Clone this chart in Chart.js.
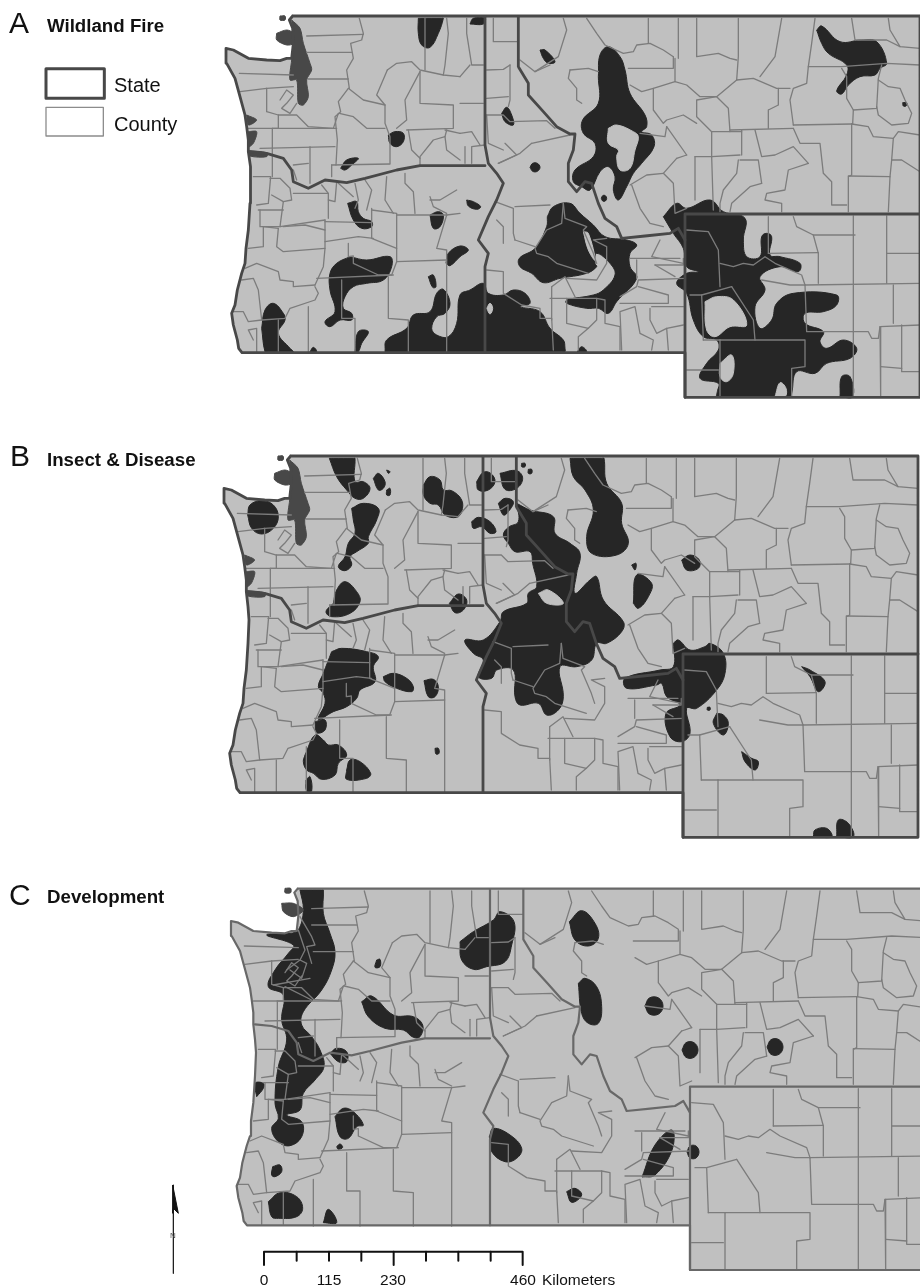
<!DOCTYPE html>
<html>
<head>
<meta charset="utf-8">
<title>Wildland Fire, Insect & Disease, Development</title>
<script src="https://cdn.jsdelivr.net/npm/chart.js"></script>
<style>
html,body{margin:0;background:#fff}
#wrap{position:relative;width:920px;height:1286px;overflow:hidden;font-family:"Liberation Sans",Arial,sans-serif;color:#111}
#wrap span{position:absolute;white-space:nowrap;line-height:1;transform:translateY(-50%)}
.letter{font-size:30px}
.title{font-size:18.7px;font-weight:bold}
.leg{font-size:20px}
.sc{font-size:15.5px;transform:translate(-50%,-50%) !important}
</style>
</head>
<body>
<div id="wrap">
<canvas id="map" width="920" height="1286"></canvas>
<span class="letter" style="left:9px;top:23px">A</span>
<span class="title" style="left:47px;top:26px">Wildland Fire</span>
<span class="leg" style="left:114px;top:85px">State</span>
<span class="leg" style="left:114px;top:124px">County</span>
<span class="letter" style="left:10px;top:456px">B</span>
<span class="title" style="left:47px;top:460px">Insect &amp; Disease</span>
<span class="letter" style="left:9px;top:895px">C</span>
<span class="title" style="left:47px;top:897px">Development</span>
<span class="sc" style="left:264px;top:1280px">0</span>
<span class="sc" style="left:329px;top:1280px">115</span>
<span class="sc" style="left:393px;top:1280px">230</span>
<span class="sc" style="left:523px;top:1280px">460</span>
<span style="left:542px;top:1280px;font-size:15.5px">Kilometers</span>
<span style="left:170px;top:1236px;font-size:8px;color:#555">N</span>
</div>
<script>
var landOutline = [878,48, 2760,48, 2760,1192, 2055,1192, 2055,1058, 726,1058, 716,1045, 712,1020, 700,975, 695,940, 705,915, 712,870, 725,820, 735,790, 738,745, 745,690, 750,610, 753,540, 750,500, 745,455, 745,420, 740,380, 735,345, 720,290, 705,235, 680,190, 678,145, 700,150, 745,175, 800,180, 840,182, 860,175, 875,175, 880,130, 878,85, 868,60, 878,48];

var waOrBorder = [750,455, 800,460, 850,475, 875,510, 880,545, 925,565, 975,540, 1040,548, 1095,535, 1190,510, 1260,497, 1455,497];
var waIdBorder = [75,50, 75,435, 85,490, 110,520, 130,550, 110,600, 85,650, 55,720, 85,760, 75,800, 75,1058];
var idMtBorder = [175,50, 175,200, 205,250, 205,285, 250,335, 290,380, 330,402, 345,402, 340,450, 325,490, 325,545, 350,575, 375,545, 395,550, 415,610, 435,655, 470,680, 485,715, 555,708, 630,700, 655,685, 675,720];
var mtWyBorder = [675,1192, 675,642, 1380,642];

var countyWest = [
 [920,108, 1090,103], [1078,55, 1090,100, 1085,120, 1052,130, 1060,175, 1040,210, 1048,265], [920,157, 1055,157], [925,237, 1045,237],
 [1045,265, 1015,305, 1022,335, 1005,350, 1012,420, 1008,495], [1045,265, 1090,300, 1155,315], [1018,340, 1060,350, 1100,385, 1155,385],
 [1275,55, 1275,210], [1162,210, 1190,190, 1235,185, 1260,210, 1330,225, 1380,230], [1162,210, 1130,285, 1155,315, 1155,370, 1170,410, 1170,490],
 [1260,215, 1215,300, 1220,360, 1190,385], [1260,215, 1260,310, 1360,315, 1360,385, 1220,390], [1340,55, 1345,100, 1335,195, 1330,225],
 [1225,390, 1235,450, 1260,475], [1340,390, 1335,410, 1300,420, 1260,470, 1260,495], [1335,410, 1340,450, 1380,480], [1335,390, 1380,400],
 [995,495, 1170,492], [995,495, 995,530], [718,220, 880,225], [720,275, 800,265], [800,265, 800,335, 835,345, 835,385, 745,385], [800,265, 880,260],
 [835,345, 890,345, 925,380, 1000,385, 1015,340], [817,385, 817,530], [817,385, 1010,385], [780,445, 1005,440], [930,440, 930,550], [880,495, 925,490], [880,510, 890,540],
 [840,300, 860,270, 880,285, 860,310, 845,325, 870,340, 890,310],
 [760,530, 812,530, 805,610, 770,615], [810,535, 840,535, 870,565, 875,600, 850,605, 815,585], [775,630, 850,630], [850,605, 840,680, 975,660],
 [880,580, 985,580, 985,655], [985,580, 965,555], [985,600, 1005,605, 1010,545], [780,630, 780,680, 840,680], [790,680, 790,740, 745,745], [790,680, 835,685],
 [835,685, 830,740, 850,755, 975,745], [850,680, 915,675, 975,690], [975,660, 975,745, 970,800, 945,855], [975,665, 1115,668], [975,725, 1075,710, 1120,715],
 [1045,730, 1045,770, 1060,768], [1115,625, 1115,715, 1190,745], [1115,630, 1190,640, 1190,785], [1190,645, 1340,645], [1010,545, 1060,590], [1065,550, 1075,600, 1065,625], [1095,540, 1115,570, 1100,630],
 [1160,530, 1155,600, 1180,640], [1215,520, 1215,550, 1240,575, 1245,640], [1290,590, 1300,620, 1340,640], [1290,600, 1320,600, 1370,570], [1340,645, 1310,745, 1340,750, 1340,1060], [1340,645, 1380,640],
 [1190,785, 1340,780], [1180,825, 950,835], [945,855, 880,860, 880,845, 840,840, 835,815, 770,790, 735,805], [945,860, 955,880, 945,900, 870,925, 855,955, 785,960, 775,870, 760,835, 725,840],
 [1060,770, 1060,790, 1135,825, 1175,825, 1190,785], [1165,830, 1165,955, 1225,960, 1225,1060], [1025,840, 1025,955, 1065,955, 1065,1060], [925,920, 925,1060], [835,960, 835,1055],
 [770,1055, 770,985, 745,990, 760,1020], [700,935, 730,935, 745,965, 785,960]
];
var countyEast = [
 [20,55, 20,100, 35,195, 70,195], [0,230, 30,195], [0,310, 70,310], [0,400, 35,395, 60,435], [15,490, 15,440], [35,490, 35,440, 75,435],
 [100,55, 100,125, 175,125], [80,210, 130,208, 150,195], [150,195, 150,300, 145,320], [80,295, 145,290], [80,345, 130,345, 150,365, 260,362, 285,385], [135,430, 170,465, 115,490], [80,345, 85,430, 130,450], [215,430, 330,405], [215,430, 180,460, 115,490],
 [105,605, 160,625, 160,700, 165,720], [165,620, 270,615], [110,660, 130,680, 130,730], [165,720, 225,740], [80,810, 130,815, 130,880, 185,915, 240,925, 240,955, 275,955, 280,1050],
 [270,895, 410,895, 435,900, 435,970, 480,980, 480,1050], [320,895, 320,970, 385,985, 355,1010, 355,1050], [410,895, 410,960, 385,985], [275,860, 275,960], [275,860, 315,830, 345,890],
 [480,890, 530,860, 535,840, 675,835], [530,780, 530,835], [510,775, 660,775], [585,795, 670,795, 670,775], [585,795, 645,830], [600,720, 575,770, 670,790], [485,1050, 480,935, 525,920, 540,1000, 580,1020, 575,1050],
 [570,925, 570,960, 590,1000, 620,985, 625,1050], [620,985, 670,975], [575,920, 670,920], [480,910, 625,910, 625,885, 535,860],
 [310,610, 305,670, 260,690, 225,745, 230,760, 265,770, 290,790, 385,820], [310,610, 315,655, 380,680, 370,690, 400,760, 410,790], [440,715, 400,720, 440,740, 440,790, 410,840, 320,835],
 [310,55, 320,90, 295,170, 225,215], [180,180, 225,215, 270,195], [330,210, 325,235, 350,265, 350,300, 365,310], [330,210, 385,205, 415,215],
 [380,55, 410,100, 435,135, 490,160, 520,155, 530,135, 570,130, 610,150, 640,170, 640,205, 505,205], [565,55, 565,130], [655,55, 655,175], [710,55, 710,170, 775,160, 810,175, 830,180], [835,55, 835,170, 830,240],
 [965,55, 945,170, 900,230], [1065,55, 1055,130, 1045,200, 1040,250, 1000,265, 990,300, 1000,375], [645,175, 645,245, 580,265, 545,275, 510,255], [645,245, 680,255, 720,290, 770,290], [830,240, 770,290, 805,325, 810,395],
 [830,240, 880,235, 950,265, 990,265], [955,265, 955,315, 925,330, 925,385], [770,290, 710,300, 710,350, 755,395, 845,395], [580,265, 580,330, 610,370, 620,360, 670,345, 710,370], [620,380, 615,410, 540,400], [620,380, 680,465],
 [755,395, 755,470, 840,465], [845,390, 845,465], [810,390, 1000,385], [885,390, 905,470, 945,465, 1000,440, 1045,490], [1000,385, 1020,430, 1080,430, 1090,520, 1115,545, 1115,615, 1160,615], [1000,375, 1175,372],
 [1175,372, 1175,525, 1165,530, 1165,635], [1175,372, 1225,380, 1240,410, 1300,415, 1315,395, 1380,405], [1165,528, 1290,530, 1285,635], [1295,480, 1325,480, 1380,515], [1300,415, 1295,480, 1290,530],
 [1175,55, 1185,120, 1280,120, 1320,140, 1380,145], [1285,55, 1290,90, 1320,140], [1045,200, 1145,200, 1280,190, 1380,195], [1145,205, 1160,230, 1160,295, 1180,330, 1250,325, 1255,235, 1265,195],
 [1255,240, 1285,260, 1320,265, 1335,300, 1355,340, 1345,370, 1295,375, 1255,345, 1250,320], [1180,330, 1178,372],
 [1045,490, 985,510, 975,570, 920,580, 915,600, 965,610, 965,635], [905,550, 870,560, 815,610, 810,635], [840,480, 895,480, 905,550], [835,480, 830,520, 790,570, 780,610, 780,635], [755,470, 760,630], [705,470, 705,600],
 [650,475, 610,520, 640,550, 645,640, 680,625], [515,555, 540,625, 570,670, 610,680], [510,555, 560,525, 610,520], [680,465, 650,475], [705,470, 755,470],
 [925,650, 925,760], [925,760, 1075,758], [1000,650, 1010,680, 1060,705, 1075,760, 1075,850], [1060,705, 1185,705], [1180,648, 1180,1190], [1280,648, 1280,850], [1280,760, 1380,760], [1035,855, 1380,850],
 [1300,855, 1300,970], [1180,995, 1225,995, 1235,1015, 1255,1015, 1260,980, 1380,975], [1035,855, 1040,995, 1180,995], [1260,980, 1262,1190], [1325,975, 1325,1115, 1380,1115], [1262,1100, 1325,1105],
 [780,1020, 1035,1020, 1035,1100, 995,1105, 995,1190], [780,1020, 780,1190], [730,1020, 780,1020], [730,1020, 725,885, 815,860], [690,885, 725,885], [680,690, 745,695, 775,750, 780,860],
 [780,790, 820,800, 850,790, 880,795, 915,770, 945,790, 1025,825, 1035,855], [815,860, 880,960, 885,1020], [905,840, 990,855, 1035,855], [680,1110, 775,1110]
];

// sound and coast patches, panels A and B
var waterPatches = [
 [875,60, 900,85, 910,130, 930,190, 935,210, 920,240, 925,290, 910,315, 895,310, 890,240, 870,240, 875,180, 880,130, 878,85],
 [830,100, 860,90, 880,100, 880,130, 860,135, 830,120], [840,48, 855,48, 855,60, 840,60],
 [740,345, 770,360, 745,375], [745,395, 770,395, 760,430, 745,440], [745,452, 800,458, 800,470, 750,468]
];
var waterPatchC = [[245,70, 280,70, 310,90, 280,110, 250,95], [255,25, 272,25, 272,38, 255,38]];

// panel A, fire
var fireWest = [
 [1255,55, 1262,55, 1325,55, 1330,55, 1315,100, 1290,142, 1265,135, 1255,100], [1165,405, 1185,395, 1210,400, 1210,425, 1190,440, 1170,430], [1022,505, 1040,480, 1075,475, 1055,495, 1035,510],
 [1043,610, 1070,605, 1075,635, 1090,655, 1115,665, 1115,680, 1085,685, 1060,660], [1290,645, 1315,635, 1330,645, 1320,680, 1300,685],
 [1050,770, 1100,780, 1170,770, 1175,800, 1150,840, 1100,850, 1060,860, 1035,890, 1030,925, 1055,940, 1055,960, 1020,960, 990,980, 975,965, 1005,935, 990,870, 990,820, 1010,790],
 [785,985, 795,930, 820,910, 850,940, 855,960, 835,1000, 870,1045, 880,1055, 870,1055, 805,1055, 795,1055], [1065,1055, 1075,995, 1105,995, 1085,1030, 1075,1055], [930,1055, 940,1042, 950,1055], [1285,830, 1300,825, 1308,860, 1298,862],
 [1155,1055, 1160,1020, 1220,985, 1240,945, 1290,935, 1310,880, 1330,868, 1350,910, 1335,940, 1310,950, 1295,985, 1310,1005, 1345,1010, 1370,970, 1380,885, 1410,870, 1450,850, 1465,880, 1510,885, 1540,870, 1575,880, 1590,910, 1560,920, 1620,935, 1650,985, 1690,1020, 1695,1045, 1695,1055, 1685,1055, 1165,1055],
 [1338,790, 1345,760, 1380,738, 1405,750, 1380,770, 1350,797], [1590,502, 1598,490, 1612,490, 1620,502, 1612,514, 1598,514], [1804,595, 1808,587, 1816,587, 1820,595, 1816,603, 1808,603]
];
var fireEast = [
 [30,72, 40,55, 75,55, 70,72], [240,150, 255,150, 285,185, 265,190, 250,175], [125,340, 140,322, 155,345, 160,375, 135,365], [20,600, 40,605, 62,620, 50,628, 25,618], [352,1055, 365,1040, 380,1055],
 [415,230, 420,165, 445,140, 480,170, 495,210, 510,280, 555,345, 560,380, 545,395, 575,405, 582,440, 545,490, 520,520, 500,560, 475,600, 460,570, 465,530, 445,500, 420,515, 390,570, 365,560, 340,545, 345,510, 400,470, 405,430, 370,400, 368,360, 415,310],
 [1070,90, 1085,78, 1140,125, 1205,120, 1250,125, 1280,190, 1260,205, 1245,225, 1200,230, 1165,255, 1145,282, 1130,272, 1160,225, 1160,195, 1105,160, 1085,130], [1328,308, 1340,308, 1338,318, 1330,318],
 [262,650, 280,620, 330,610, 360,640, 400,675, 435,710, 500,720, 530,735, 510,760, 510,800, 530,835, 470,905, 445,940, 415,925, 380,925, 320,910, 320,900, 400,885, 430,870, 465,825, 450,790, 410,760, 405,790, 410,800, 380,820, 300,835, 250,848, 215,820, 180,800, 178,775, 225,745, 260,680],
 [610,650, 650,610, 680,625, 750,600, 790,635, 855,655, 850,720, 860,770, 900,770, 905,710, 920,700, 935,710, 930,765, 960,770, 1020,790, 1015,815, 960,800, 900,830, 915,870, 885,920, 900,985, 935,960, 950,910, 1000,880, 1130,885, 1130,915, 1090,935, 1035,940, 1035,970, 1090,995, 1080,1025, 1100,1045, 1150,1020, 1190,1045, 1170,1075, 1100,1090, 1065,1120, 1010,1115, 995,1180, 990,1190, 980,1190, 780,1190, 770,1190, 772,1175, 775,1150, 720,1135, 740,1090, 775,1050, 770,1020, 730,1010, 700,960, 680,880, 650,850, 680,820, 715,815, 680,800, 670,745, 640,700],
 [1140,1190, 1145,1130, 1170,1130, 1178,1190]
];
var fireHoles = [
 [445,385, 470,375, 520,395, 535,410, 525,450, 510,505, 480,510, 470,470, 475,450, 445,430], [370,695, 385,700, 405,780, 385,750], [80,925, 90,910, 98,925, 90,942],
 [735,905, 770,890, 820,900, 860,975, 810,980, 765,1010, 740,990], [780,1090, 815,1065, 820,1120, 800,1145, 780,1130], [945,1190, 960,1148, 978,1165, 975,1190]
];

// panel B, insects and disease
var insectWest = [
 [143,225, 150,195, 185,182, 220,195, 235,230, 220,265, 185,282, 155,265], [388,55, 400,55, 460,55, 465,55, 465,125, 490,125, 510,145, 490,175, 465,175, 440,150, 410,110],
 [455,205, 490,190, 535,205, 530,240, 505,290, 505,310, 470,335, 450,350, 455,375, 435,392, 415,380, 435,350, 445,310, 465,280, 460,240],
 [520,115, 535,100, 555,125, 550,145, 535,150], [560,150, 570,145, 570,165, 560,165], [560,90, 570,95, 565,100],
 [670,135, 690,110, 720,120, 730,150, 755,152, 785,180, 785,215, 770,232, 735,225, 715,195, 690,190, 670,165],
 [830,125, 850,97, 872,100, 885,125, 865,150, 835,150], [900,100, 950,92, 968,115, 950,145, 915,148], [815,245, 835,232, 870,245, 888,275, 870,280, 845,260, 820,265],
 [400,490, 410,450, 435,425, 470,455, 480,485, 450,520, 395,530, 378,515], [748,490, 775,462, 800,480, 790,510, 765,518],
 [395,635, 425,625, 500,635, 535,650, 520,680, 525,725, 480,750, 470,775, 440,800, 400,815, 355,838, 375,790, 370,760, 355,740, 370,700],
 [345,845, 375,840, 375,870, 350,878], [315,945, 345,885, 370,900, 385,915, 415,915, 440,945, 415,970, 405,1005, 365,1018, 340,1000, 320,990, 310,965],
 [440,990, 450,960, 480,965, 512,1000, 500,1015, 440,1018], [318,1020, 330,1010, 335,1053, 320,1053], [550,710, 580,700, 620,715, 640,740, 635,755, 590,745, 555,725],
 [672,722, 700,718, 715,740, 705,770, 685,770], [705,925, 715,925, 717,940, 708,942]
];
var insectEast = [
 [170,190, 210,210, 280,230, 285,280, 330,310, 360,340, 350,400, 345,460, 390,420, 410,410, 430,480, 490,545, 485,575, 440,610, 410,610, 395,660, 350,680, 300,680, 310,770, 295,810, 260,825, 235,790, 180,795, 165,770, 160,690, 110,690, 95,715, 55,710, 70,660, 40,640, 15,600, 70,600, 120,545, 130,515, 200,490, 205,460, 230,440, 218,370, 210,335, 165,335, 145,310, 130,285, 145,262, 175,245],
 [115,190, 135,175, 160,185, 145,215, 130,225], [330,55, 340,55, 425,55, 432,55, 440,130, 485,190, 485,250, 505,310, 470,345, 395,340, 380,290, 400,210, 375,150, 340,110],
 [520,490, 530,405, 575,430, 565,470, 535,505], [665,360, 690,345, 718,360, 715,385, 680,390],
 [640,610, 655,600, 690,630, 735,620, 750,610, 790,640, 795,700, 770,750, 710,805, 680,805, 690,880, 665,905, 630,890, 618,820, 660,795, 620,770, 605,730, 590,735, 500,745, 495,715, 600,690, 640,680],
 [1025,680, 1050,690, 1095,725, 1075,755, 1050,710], [770,820, 790,825, 805,850, 790,885, 760,850], [845,935, 875,955, 895,965, 885,990, 855,965], [742,802, 750,802, 750,810, 742,810],
 [1060,1190, 1065,1170, 1100,1165, 1115,1190], [1130,1190, 1135,1140, 1165,1150, 1180,1190], [185,70, 195,70, 195,80, 185,80], [205,88, 215,88, 215,100, 205,100], [515,375, 528,370, 525,390]
];
var insectHoles = [[235,460, 265,450, 310,490, 260,490]];

// panel C, development
var devWest = [
 [300,30, 310,30, 365,30, 370,30, 370,100, 390,160, 405,215, 395,270, 365,330, 310,395, 305,435, 335,470, 360,510, 372,560, 345,600, 310,640, 300,690, 260,705, 305,725, 305,770, 270,797, 235,785, 215,745, 235,715, 225,670, 235,560, 260,480, 245,420, 250,345, 205,320, 225,270, 265,220, 280,195, 200,165, 270,160, 295,150, 310,90],
 [170,650, 165,610, 190,610, 190,625], [530,240, 540,238, 540,260, 525,262], [485,365, 515,348, 580,405, 640,410, 668,435, 660,470, 640,472, 610,450, 555,445, 505,410],
 [780,185, 820,155, 880,120, 900,95, 942,125, 935,195, 915,245, 860,260, 820,268, 785,240], [1108,125, 1145,92, 1185,130, 1195,175, 1165,198, 1125,180],
 [1135,310, 1155,295, 1190,320, 1205,380, 1195,430, 1165,430, 1145,400], [390,520, 410,505, 440,515, 440,545, 415,545], [405,710, 430,685, 460,695, 490,735, 470,740, 445,775, 420,770],
 [410,800, 420,792, 428,802, 415,808], [218,860, 240,855, 245,875, 225,890, 215,885], [205,965, 240,938, 290,950, 308,985, 290,1010, 235,1015, 215,1010], [370,1028, 385,988, 410,1028],
 [868,770, 880,745, 930,765, 965,805, 950,835, 915,845, 875,815], [1100,935, 1125,925, 1145,945, 1115,967]
];
var devSpots = [
 [1935,3018, 1948,2994, 1976,2994, 1989,3018, 1976,3042, 1948,3042], [2046,3150, 2058,3128, 2082,3128, 2094,3150, 2082,3172, 2058,3172],
 [2301,3141, 2313,3119, 2337,3119, 2349,3141, 2337,3163, 2313,3163], [2061,3456, 2070,3438, 2088,3438, 2097,3456, 2088,3474, 2070,3474],
 [1926,3531, 1965,3435, 2016,3390, 2016,3450, 1965,3525]
];
var devPuget = [[300,110, 335,170, 345,195, 320,200, 335,250], [260,270, 300,240, 320,250, 305,295, 270,270], [220,315, 330,295], [255,320, 335,360], [295,150, 315,210, 300,240]];

// legend, scale bar and north arrow
var stateKey = [138,206, 313,206, 313,295, 138,295, 138,206];
var countyKey = [138,322, 310,322, 310,408, 138,408, 138,322];
var scaleBar = [792,3795, 792,3755, 1568,3755, 1568,3795];
var scaleTicks = [[890,3755, 890,3782], [987,3755, 987,3782], [1084,3755, 1084,3782], [1181,3755, 1181,3795], [1278,3755, 1278,3782], [1375,3755, 1375,3782], [1472,3755, 1472,3782]];
var northLine = [520,3555, 520,3820];
var northHead = [518,3555, 535,3640, 520,3625, 518,3640];

function pts(list, dx, dy) {
    var out = [];
    for (var i = 0; i < list.length; i += 2) out.push({x: list[i] + dx, y: list[i + 1] + dy});
    return out;
}

var datasets = [];
function line(list, dx, dy, color, width) {
    datasets.push({data: pts(list, dx, dy), showLine: true, borderColor: color, borderWidth: width, pointRadius: 0, fill: false, tension: 0, borderJoinStyle: 'round', borderCapStyle: 'round'});
}
function shape(list, dx, dy, color, bend) {
    datasets.push({data: pts(list.concat(list.slice(0, 2)), dx, dy), showLine: true, borderColor: color, borderWidth: 1, backgroundColor: color, pointRadius: 0, fill: 'shape', tension: bend});
}

var LAND = '#c0c0c0', BLOB = '#262626';

function panel(dx, dy, marks, stateColor, stateWidth, water) {
    datasets.push({data: pts(landOutline, dx, dy), showLine: true, borderWidth: 0, backgroundColor: LAND, pointRadius: 0, fill: 'shape'});
    marks.forEach(function (m) {
        m.list.forEach(function (b) { shape(b, dx + m.ox, dy + m.oy, m.color, 0.4); });
    });
    water.forEach(function (b) { shape(b.list, dx + b.ox, dy + b.oy, '#484848', 0.3); });
    countyWest.forEach(function (c) { line(c, dx, dy, '#7c7c7c', 1.3); });
    countyEast.forEach(function (c) { line(c, dx + 1380, dy, '#7c7c7c', 1.3); });
    line(landOutline, dx, dy, stateColor, stateWidth);
    line(waOrBorder, dx, dy, stateColor, stateWidth);
    line(waIdBorder, dx + 1380, dy, stateColor, stateWidth);
    line(idMtBorder, dx + 1380, dy, stateColor, stateWidth);
    line(mtWyBorder, dx + 1380, dy, stateColor, stateWidth);
}

// panel offsets come from the shared base map: A is the reference, B and C are the same map lower down
panel(0, 0, [
    {list: fireWest, ox: 0, oy: 0, color: BLOB},
    {list: fireEast, ox: 1380, oy: 0, color: BLOB},
    {list: fireHoles, ox: 1380, oy: 0, color: LAND}
], '#484848', 2.8, waterPatches.map(function (w) { return {list: w, ox: 0, oy: 0}; }));

panel(-6, 1320, [
    {list: insectWest, ox: 606, oy: 0, color: BLOB},
    {list: insectEast, ox: 1386, oy: 0, color: BLOB},
    {list: insectHoles, ox: 1386, oy: 0, color: LAND}
], '#484848', 2.8, waterPatches.map(function (w) { return {list: w, ox: 0, oy: 0}; }));

panel(15, 2618, [
    {list: devWest, ox: 585, oy: 22, color: BLOB},
    {list: devSpots, ox: -15, oy: -2618, color: BLOB}
], '#686868', 2.2, waterPatchC.map(function (w) { return {list: w, ox: 585, oy: 22}; }));
devPuget.forEach(function (c) { line(c, 600, 2640, '#7c7c7c', 1.3); });

line(stateKey, 0, 0, '#484848', 3);
line(countyKey, 0, 0, '#8c8c8c', 1.3);
line(scaleBar, 0, 0, '#111', 2);
scaleTicks.forEach(function (t) { line(t, 0, 0, '#111', 2); });
line(northLine, 0, 0, '#111', 1.2);
shape(northHead, 0, 0, '#111', 0);

// first dataset is drawn on top in Chart.js, so flip the list
datasets.reverse();

new Chart(document.getElementById('map').getContext('2d'), {
    type: 'scatter',
    data: {datasets: datasets},
    options: {
        responsive: false,
        animation: false,
        layout: {padding: 0},
        plugins: {legend: {display: false}, tooltip: {enabled: false}},
        scales: {
            x: {type: 'linear', display: false, min: 0, max: 2760},
            y: {type: 'linear', display: false, reverse: true, min: 0, max: 3858}
        }
    }
});
</script>
</body>
</html>
